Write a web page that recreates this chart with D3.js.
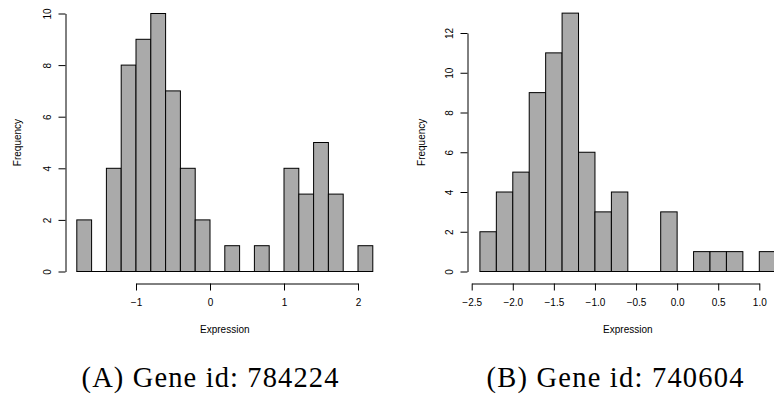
<!DOCTYPE html>
<html lang="en">
<head>
    <meta charset="UTF-8">
    <title>Gene expression histograms</title>
    <script src="https://d3js.org/d3.v7.min.js"></script>
    <style>
        body { margin: 0; background: #fff; }
        svg { display: block; }
        .tick text, .lab { font-family: 'Liberation Sans', Arial, sans-serif; font-size: 10px; fill: #000; }
        .cap { font-family: 'Liberation Serif', 'Times New Roman', serif; font-size: 28.5px; fill: #000; }
        .bar { fill: #aaaaaa; stroke: #000; stroke-width: 1px; }
        .domain, .tick line { stroke: #000; }
    </style>
</head>
<body>
<svg id="chart" width="774" height="398"></svg>

<script>
    // Panel A: gene 784224
    var edgesA = [-1.8, -1.6, -1.4, -1.2, -1.0, -0.8, -0.6, -0.4, -0.2, 0.0, 0.2, 0.4, 0.6, 0.8, 1.0, 1.2, 1.4, 1.6, 1.8, 2.0, 2.2];
    var countsA = [2, 0, 4, 8, 9, 10, 7, 4, 2, 0, 1, 0, 1, 0, 4, 3, 5, 3, 0, 1];
    var xTicksA = [-1, 0, 1, 2];
    var yTicksA = [0, 2, 4, 6, 8, 10];
    var captionA = "(A) Gene id: 784224";

    // Panel B: gene 740604
    var edgesB = [-2.4, -2.2, -2.0, -1.8, -1.6, -1.4, -1.2, -1.0, -0.8, -0.6, -0.4, -0.2, 0.0, 0.2, 0.4, 0.6, 0.8, 1.0, 1.2];
    var countsB = [2, 4, 5, 9, 11, 13, 6, 3, 4, 0, 0, 3, 0, 1, 1, 1, 0, 1];
    var xTicksB = [-2.5, -2.0, -1.5, -1.0, -0.5, 0.0, 0.5, 1.0];
    var yTicksB = [0, 2, 4, 6, 8, 10, 12];
    var captionB = "(B) Gene id: 740604";

    var svg = d3.select("#chart");
    svg.append("rect").attr("width", 774).attr("height", 398).attr("fill", "#fff");

    var axisY = 283.5;

    function panel(p) {
        var g = svg.append("g");
        var bins = p.counts.map(function(c, i) { return {x0: p.edges[i], x1: p.edges[i + 1], n: c}; });

        // baseline under empty bins
        g.append("line")
            .attr("x1", p.x(p.edges[0])).attr("x2", p.x(p.edges[p.edges.length - 1]))
            .attr("y1", p.y(0)).attr("y2", p.y(0))
            .attr("stroke", "#000");

        g.selectAll(".bar").data(bins.filter(function(d) { return d.n > 0; })).enter().append("rect")
            .attr("class", "bar")
            .attr("x", function(d) { return p.x(d.x0); })
            .attr("width", function(d) { return p.x(d.x1) - p.x(d.x0); })
            .attr("y", function(d) { return p.y(d.n); })
            .attr("height", function(d) { return p.y(0) - p.y(d.n); });

        g.append("g").attr("transform", "translate(0," + axisY + ")")
            .call(d3.axisBottom(p.x).tickValues(p.xTicks).tickFormat(p.fmt).tickSize(7).tickSizeOuter(0).tickPadding(8))
            .call(function(a) { a.selectAll("text").attr("font-family", null).attr("font-size", null); });

        g.append("g").attr("transform", "translate(" + p.axisX + ",0)")
            .call(d3.axisLeft(p.y).tickValues(p.yTicks).tickSize(7).tickSizeOuter(0))
            .call(function(a) {
                a.selectAll("text").attr("font-family", null).attr("font-size", null)
                    .attr("x", 0).attr("dy", 0).attr("text-anchor", "middle")
                    .attr("transform", "translate(-15,0) rotate(-90)");
            });

        svg.append("text").attr("class", "lab")
            .attr("transform", "translate(" + p.ylabX + "," + p.y(p.yMid) + ") rotate(-90)")
            .attr("text-anchor", "middle").text("Frequency");
        svg.append("text").attr("class", "lab")
            .attr("x", p.x(p.xMid)).attr("y", 332.5)
            .attr("text-anchor", "middle").text("Expression");
        svg.append("text").attr("class", "cap")
            .attr("x", p.capX).attr("y", 387)
            .attr("text-anchor", "middle")
            .attr("textLength", 257).attr("lengthAdjust", "spacing")
            .text(p.caption);
    }

    panel({
        edges: edgesA, counts: countsA, xTicks: xTicksA, yTicks: yTicksA, caption: captionA,
        x: d3.scaleLinear().domain([-1, 2]).range([136, 358]),
        y: d3.scaleLinear().domain([0, 10]).range([271.5, 13.5]),
        fmt: d3.format("d"), axisX: 65.5, ylabX: 21, yMid: 5, xMid: 0.2, capX: 210
    });

    panel({
        edges: edgesB, counts: countsB, xTicks: xTicksB, yTicks: yTicksB, caption: captionB,
        x: d3.scaleLinear().domain([-2.5, 1.0]).range([471.7, 759.3]),
        y: d3.scaleLinear().domain([0, 12]).range([271.5, 33]),
        fmt: d3.format(".1f"), axisX: 467.5, ylabX: 425, yMid: 6.5, xMid: -0.6, capX: 615
    });
</script>
</body>
</html>
